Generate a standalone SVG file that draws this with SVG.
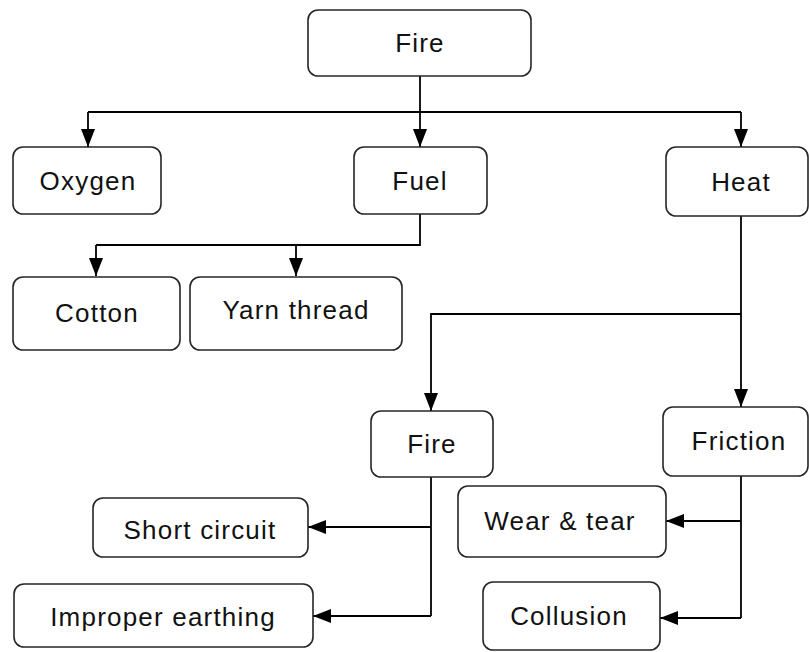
<svg xmlns="http://www.w3.org/2000/svg" width="809" height="652" viewBox="0 0 809 652">
<defs>
<style>
.box{fill:#fff;stroke:#262626;stroke-width:1.6}
.lbl{font-family:"Liberation Sans",Arial,sans-serif;font-size:26px;letter-spacing:1.2px;fill:#111;text-anchor:middle}
.con{fill:none;stroke:#000;stroke-width:1.8}
</style>
<marker id="ah" markerUnits="userSpaceOnUse" markerWidth="18" markerHeight="16" viewBox="0 0 18 16" refX="18" refY="8" orient="auto">
<path d="M0,1 L18,8 L0,15 z" fill="#000"/>
</marker>
</defs>
<rect width="809" height="652" fill="#fff"/>
<g id="connectors">
<path class="con" d="M420,76 V112"/>
<path class="con" d="M88,112 H741"/>
<path class="con" d="M88,112 V147" marker-end="url(#ah)"/>
<path class="con" d="M420,112 V147" marker-end="url(#ah)"/>
<path class="con" d="M741,112 V147" marker-end="url(#ah)"/>
<path class="con" d="M420,214 V245 H96"/>
<path class="con" d="M96,245 V276" marker-end="url(#ah)"/>
<path class="con" d="M296,245 V276" marker-end="url(#ah)"/>
<path class="con" d="M741,216 V407" marker-end="url(#ah)"/>
<path class="con" d="M741,314 H431 V411" marker-end="url(#ah)"/>
<path class="con" d="M431,477 V616"/>
<path class="con" d="M431,527 H308" marker-end="url(#ah)"/>
<path class="con" d="M431,616 H313" marker-end="url(#ah)"/>
<path class="con" d="M741,476 V618"/>
<path class="con" d="M741,521 H666" marker-end="url(#ah)"/>
<path class="con" d="M741,618 H660" marker-end="url(#ah)"/>
</g>
<g id="fire-top"><rect class="box" x="308" y="10" width="223" height="66" rx="10"/><text class="lbl" x="420" y="52">Fire</text></g>
<g id="oxygen"><rect class="box" x="13" y="147" width="148" height="67" rx="10"/><text class="lbl" x="88" y="190">Oxygen</text></g>
<g id="fuel"><rect class="box" x="354" y="147" width="133" height="67" rx="10"/><text class="lbl" x="420" y="190">Fuel</text></g>
<g id="heat"><rect class="box" x="666" y="147" width="142" height="69" rx="10"/><text class="lbl" x="741" y="191">Heat</text></g>
<g id="cotton"><rect class="box" x="13" y="277" width="167" height="73" rx="10"/><text class="lbl" x="97" y="322">Cotton</text></g>
<g id="yarn-thread"><rect class="box" x="190" y="277" width="212" height="73" rx="10"/><text class="lbl" x="296" y="319">Yarn thread</text></g>
<g id="fire-sub"><rect class="box" x="371" y="411" width="122" height="66" rx="10"/><text class="lbl" x="432" y="453">Fire</text></g>
<g id="friction"><rect class="box" x="663" y="407" width="145" height="69" rx="10"/><text class="lbl" x="739" y="450">Friction</text></g>
<g id="short-circuit"><rect class="box" x="93" y="498" width="215" height="59" rx="10"/><text class="lbl" x="200" y="539">Short circuit</text></g>
<g id="wear-tear"><rect class="box" x="458" y="486" width="208" height="71" rx="10"/><text class="lbl" x="560" y="530">Wear &amp; tear</text></g>
<g id="improper-earthing"><rect class="box" x="14" y="584" width="299" height="63" rx="10"/><text class="lbl" x="163" y="626">Improper earthing</text></g>
<g id="collusion"><rect class="box" x="483" y="582" width="177" height="68" rx="10"/><text class="lbl" x="569" y="625">Collusion</text></g>
</svg>
